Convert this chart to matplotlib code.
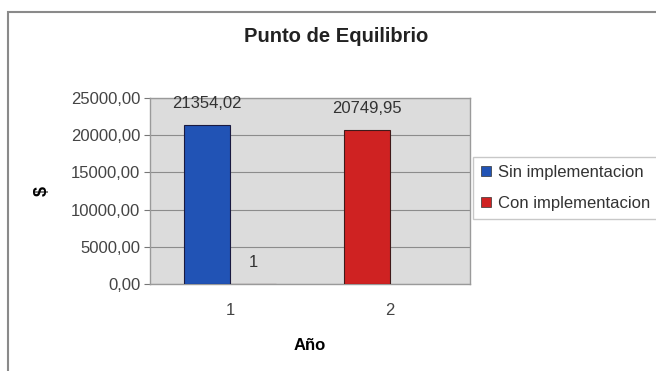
import matplotlib
matplotlib.use("Agg")
import matplotlib.pyplot as plt
from matplotlib.patches import Rectangle, Patch

plt.rcParams['font.family'] = ['Liberation Sans', 'DejaVu Sans']

# datos del punto de equilibrio
categorias = ["1", "2"]
series = ["Sin implementacion", "Con implementacion"]
sin_impl = [21354.02]          # solo año 1
con_impl = [1, 20749.95]       # año 1 (casi cero) y año 2
colores = ["#2153b5", "#cf2222"]

def fmt(v):
    if float(v).is_integer():
        return "%d" % v
    return ("%.2f" % v).replace(".", ",")

fig = plt.figure(figsize=(6.56, 3.71), dpi=100)
ax = fig.add_axes([150/656, 1-284/371, 320/656, 186/371])
ax.set_facecolor("#dcdcdc")

ancho = 0.2875
# barra azul en el hueco izquierdo del año 1
b1 = ax.bar(0 - ancho/2, sin_impl[0], ancho, color=colores[0], edgecolor="#1a1a40", lw=0.8, zorder=3)
# serie roja: valor 1 a la derecha del año 1, luego el año 2 en el hueco izquierdo
b2 = ax.bar(0 + ancho/2, con_impl[0], ancho, color=colores[1], edgecolor="#401a1a", lw=0.8, zorder=3)
b3 = ax.bar(1 - ancho/2, con_impl[1], ancho, color=colores[1], edgecolor="#401a1a", lw=0.8, zorder=3)

for barras, v in [(b1, sin_impl[0]), (b2, con_impl[0]), (b3, con_impl[1])]:
    r = barras[0]
    ax.annotate(fmt(v), (r.get_x() + r.get_width()/2, v), xytext=(0, 10),
                textcoords="offset points", ha="center", va="bottom",
                fontsize=12, color="#333333", zorder=4)

ax.set_xlim(-0.5, 1.5)
ax.set_ylim(0, 25000)
ax.set_yticks(range(0, 25001, 5000))
ax.set_yticklabels([("%.2f" % t).replace(".", ",") for t in range(0, 25001, 5000)],
                   fontsize=12, color="#444444")
ax.set_xticks([0, 1])
ax.set_xticklabels(categorias, fontsize=12, color="#444444")
ax.tick_params(axis="x", length=0, pad=14)
ax.tick_params(axis="y", length=4, color="#777777", pad=3)
ax.grid(axis="y", color="#8c8c8c", lw=0.8, zorder=1)
for s in ax.spines.values():
    s.set_color("#9a9a9a")
    s.set_linewidth(1)

ax.set_xlabel("Año", fontsize=12, fontweight="bold", labelpad=14)
fig.text(42/656, 1-191/371, "$", rotation=90, fontsize=13, fontweight="bold",
         ha="center", va="center")
fig.text(336/656, 1-37/371, "Punto de Equilibrio", fontsize=14.5, fontweight="bold",
         ha="center", va="center", color="#222222")

handles = [Patch(facecolor=c, edgecolor="#333333", lw=0.5) for c in colores]
fig.legend(handles, series, loc="center left", bbox_to_anchor=(473/656, 1-188/371),
           borderaxespad=0, fontsize=12, frameon=True, fancybox=False, edgecolor="#bbbbbb",
           handlelength=0.6, handleheight=0.6, handletextpad=0.4,
           borderpad=0.5, labelspacing=0.95, labelcolor="#333333")

# marco del área del gráfico
fig.patches.append(Rectangle((8/656, -0.1), 1.2, (371-12)/371 + 0.1,
                             transform=fig.transFigure, fill=False,
                             edgecolor="#8a8a8a", lw=1.5))

fig.savefig("out.png", dpi=100, facecolor="white")
